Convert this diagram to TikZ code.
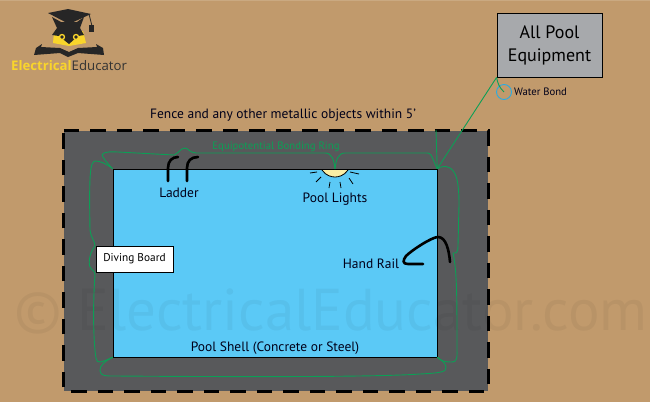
\documentclass[tikz,border=0pt]{standalone}
\usepackage{fontspec}
\setmainfont{PT Sans}
\newfontfamily\logofont{Open Sans}
\usetikzlibrary{positioning}
\definecolor{sand}{HTML}{C19A6C}
\definecolor{deckgray}{HTML}{58595B}
\definecolor{poolblue}{HTML}{5BC9F6}
\definecolor{bondgreen}{HTML}{0C9F56}
\definecolor{bondblue}{HTML}{29ABE2}
\definecolor{equipgray}{HTML}{A7A9AC}
\definecolor{logoyellow}{HTML}{F9D52B}
\definecolor{lampcream}{HTML}{FBEFA5}
\tikzstyle{wire}=[bondgreen,line width=0.9pt]
\tikzstyle{rail}=[black,line width=2.6pt,line cap=round]
\tikzstyle{ray}=[black,line width=0.8pt]
\tikzstyle{label}=[inner sep=0pt,text=black!90!blue,font=\fontsize{13.5}{15}\selectfont]
\tikzstyle{box}=[draw=black,inner sep=0pt]
\begin{document}
\begin{tikzpicture}[x=1pt,y=-1pt]
\useasboundingbox (0,0) rectangle (650,402);
\fill[sand] (0,0) rectangle (650,402);
\fill[white,opacity=0.15] (0,0) rectangle (650,1);

% logo
\fill[black!85] (48,13) -- (68,9) -- (91,14) -- (69,24) -- cycle;
\draw[black!85,line width=0.8pt] (89,14) -- (92,26);
\fill[black!85] (89,25) rectangle (94,32);
\fill[logoyellow] (54,32) -- (83,31) -- (86,43) -- (69,46) -- (53,43) -- cycle;
\fill[black!85] (52,17) -- (61,22) -- (77,22) -- (84,17) -- (80,28) -- (84,35) -- (78,36) -- (69,44) -- (59,36) -- (52,35) -- (57,28) -- cycle;
\fill[logoyellow] (62,37) circle (3.2) (76,37) circle (3.2);
\fill[black!85] (62,37) circle (1.8) (76,37) circle (1.8);
\fill[black!85] (34,55) -- (36,48) -- (42,44) -- (41,47) -- (60,48) -- (69,52) -- (78,48) -- (97,47) -- (96,44) -- (103,48) -- (104,55) -- (78,53) -- (68,57) -- (60,53) -- cycle;
\node[inner sep=0pt,anchor=west] (logotext) at (11,66) {\logofont\fontsize{13.2}{14}\selectfont\textcolor{logoyellow}{\textbf{Electrical}}\textcolor{black!80}{Educator}};

% pool deck and water
\node[fill=deckgray,inner sep=0pt,minimum width=424pt,minimum height=260pt] (deck) at (276,261) {};
\draw[black,line width=3pt,dash pattern=on 15.5pt off 11pt] (deck.north west) -- (deck.north east) -- (deck.south east) -- (deck.south west) -- cycle;
\node[box,fill=poolblue,minimum width=324pt,minimum height=188pt] (pool) at (275,263) {};

\node[inner sep=0pt,opacity=0.045,text=black] (mark) at (331,311) {\fontsize{59}{60}\selectfont © ElectricalEducator.com};

% equipment
\node[box,fill=equipgray,line width=0.9pt,minimum width=105pt,minimum height=64pt,align=center,font=\fontsize{18}{23}\selectfont] (equip) at (549.5,45) {All Pool\\Equipment};
\node[draw=bondblue,line width=0.9pt,circle,inner sep=0pt,minimum size=15pt] (bond) at (504,92) {};
\node[label,font=\fontsize{10.7}{12}\selectfont,right=2pt of bond] (bondtext) {Water Bond};
\coordinate (tap) at (436,130);

% bonding ring
\draw[wire] (equip.south west) -- (pool.north east);
\draw[wire] (tap) -- (pool.north east);
\draw[wire] (equip.south west) .. controls (498,84) and (499,87) .. (bond.center);
\draw[wire] (pool.north east) .. controls (430,153) and (432,153) .. (425,153) -- (345,153) .. controls (338,153) and (336,160) .. (335,169);
\draw[wire] (335,169) .. controls (334,160) and (332,153) .. (325,153) -- (196,153) .. controls (190,153) and (188,148) .. (185,148) .. controls (181,148) and (179,153) .. (174,155) -- (118,152) .. controls (104,151) and (100,154) .. (103,157) .. controls (106,162) and (110,166) .. (pool.north west);
\draw[wire] (pool.north west) .. controls (105,163) and (100,161) .. (95,161) .. controls (90,162) and (89,175) .. (90,230) .. controls (91,238) and (95,241) .. (95,246) .. controls (90,252) and (88,262) .. (90,267) .. controls (92,271) and (95,270) .. (95,275) .. controls (93,300) and (93,340) .. (96,358) .. controls (97,364) and (100,363) .. (pool.south west);
\draw[wire] (pool.south west) .. controls (105,361) and (99,366) .. (100,371) .. controls (101,376) and (105,376) .. (115,376) .. controls (250,377) and (380,377) .. (420,374) .. controls (440,373) and (447,372) .. (446,367) .. controls (445,362) and (441,360) .. (pool.south east);
\draw[wire] (pool.south east) .. controls (441,361) and (445,362) .. (451,362) .. controls (458,362) and (457,358) .. (457,345) .. controls (457,300) and (457,270) .. (453,253);
\draw[wire] (453,253) .. controls (456,253) and (458,254) .. (458,245) -- (459,205) .. controls (459,180) and (456,172) .. (450,168) .. controls (445,165) and (440,167) .. (pool.north east);

% pool fittings
\draw[rail] (168,181) -- (168,168) .. controls (168,161) and (172,157) .. (178,157);
\draw[rail] (187,181) -- (187,168) .. controls (187,161) and (191,157) .. (198,157);
\draw[rail] (450,262) .. controls (449,250) and (446,237) .. (438,237) .. controls (432,237) and (412,250) .. (406,256) .. controls (403,260) and (402,264) .. (408,264) -- (423,264);
\fill[lampcream,draw=black,line width=0.8pt] (322,170) .. controls (326,176) and (332,177) .. (335,177) .. controls (338,177) and (344,176) .. (348,170);
\draw[ray] (310,173) -- (317,172);
\draw[ray] (316,182) -- (321,177);
\draw[ray] (329,188) -- (330,182);
\draw[ray] (341,188) -- (340,182);
\draw[ray] (353,184) -- (349,178);
\draw[ray] (350,172) -- (359,174);

\node[box,fill=white,line width=0.8pt,minimum width=77pt,minimum height=26pt,font=\fontsize{11.3}{12}\selectfont] (board) at (134.5,259) {Diving Board};

% labels
\node[label] (fence) at (283,115) {Fence and any other metallic objects within 5'};
\node[label,text=bondgreen,font=\fontsize{10.8}{12}\selectfont] (ringtext) at (276,147) {Equipotential Bonding Ring};
\node[label] (ladder) at (179,193) {Ladder};
\node[label] (lights) at (335,199) {Pool Lights};
\node[label] (handrail) at (371,264) {Hand Rail};
\node[label] (shell) at (275,348) {Pool Shell (Concrete or Steel)};
\end{tikzpicture}
\end{document}
